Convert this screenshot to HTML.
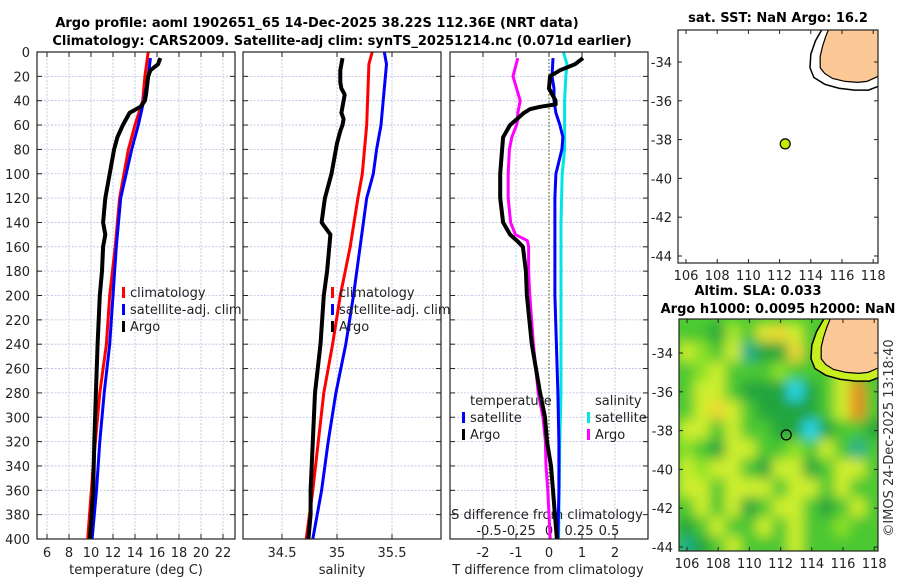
<!DOCTYPE html>
<html><head><meta charset="utf-8">
<style>
html,body{margin:0;padding:0;background:#fff;}
svg{display:block;font-family:"DejaVu Sans","Liberation Sans",sans-serif;}
</style></head>
<body>
<svg id="fig" width="900" height="580" viewBox="0 0 900 580" xmlns="http://www.w3.org/2000/svg">
<text x="317" y="27" font-size="13" font-weight="bold" text-anchor="middle">Argo profile: aoml 1902651_65 14-Dec-2025 38.22S 112.36E (NRT data)</text>
<text x="342" y="45" font-size="13" font-weight="bold" text-anchor="middle">Climatology: CARS2009. Satellite-adj clim: synTS_20251214.nc (0.071d earlier)</text>
<text x="778" y="22" font-size="13" font-weight="bold" text-anchor="middle">sat. SST: NaN Argo: 16.2</text>
<text x="758" y="295" font-size="13" font-weight="bold" text-anchor="middle">Altim. SLA: 0.033</text>
<text x="778" y="313" font-size="13" font-weight="bold" text-anchor="middle">Argo h1000: 0.0095 h2000: NaN</text>
<text transform="translate(893,438) rotate(-90)" font-size="13" fill="#333" text-anchor="middle">©IMOS 24-Dec-2025 13:18:40</text>
<g id="layer"></g>
</svg>
<script>
// ---------- data ----------
var depthTicks = [0,20,40,60,80,100,120,140,160,180,200,220,240,260,280,300,320,340,360,380,400];
var tempTicks = [6,8,10,12,14,16,18,20,22];
var salTicks = [34.5,35,35.5];
var salTickLabels = ["34.5","35","35.5"];
var dTTicks = [-2,-1,0,1,2];
var dSTicks = [-0.5,-0.25,0,0.25,0.5];
var dSTickLabels = ["-0.5","-0.25","0","0.25","0.5"];

var tClimDepth = [0,20,40,60,80,100,120,140,160,200,240,280,340,400];
var tClimVal   = [15.2,14.9,14.7,14.0,13.4,13.0,12.6,12.4,12.2,11.7,11.4,10.8,10.2,9.7];
var tSatDepth  = [5,20,40,60,80,100,120,160,200,240,280,320,360,400];
var tSatVal    = [15.4,15.2,14.8,14.3,13.7,13.2,12.7,12.3,12.0,11.7,11.2,10.8,10.5,10.1];
var tArgoDepth = [5,10,15,20,35,40,45,50,55,60,70,80,100,120,140,150,160,180,200,240,280,320,360,400];
var tArgoVal   = [16.3,16.1,15.4,15.2,15.0,14.9,14.5,13.5,13.2,12.9,12.4,12.1,11.7,11.3,11.1,11.3,11.1,11.0,10.8,10.6,10.45,10.3,10.2,9.9];

var sClimDepth = [0,10,60,100,120,160,200,240,280,320,360,400];
var sClimVal   = [35.32,35.29,35.27,35.23,35.19,35.12,35.03,34.96,34.88,34.83,34.78,34.72];
var sSatDepth  = [0,10,60,80,100,120,160,200,240,280,320,360,400];
var sSatVal    = [35.43,35.45,35.40,35.36,35.33,35.27,35.21,35.15,35.08,34.99,34.92,34.86,34.78];
var sArgoDepth = [5,15,25,30,35,45,50,55,60,65,75,85,100,120,140,150,160,180,200,240,280,320,360,380,400];
var sArgoVal   = [35.05,35.03,35.03,35.04,35.07,35.05,35.04,35.06,35.05,35.03,35.0,34.98,34.95,34.89,34.86,34.94,34.93,34.91,34.88,34.85,34.8,34.78,34.76,34.76,34.74];

var dTArgoDepth = [5,10,15,20,30,40,43,45,47,50,55,60,70,80,100,120,140,150,155,160,180,200,240,280,300,320,340,360,380,400];
var dTArgoVal   = [1.03,0.79,0.33,0.03,0.0,0.2,0.2,-0.27,-0.58,-0.76,-0.97,-1.18,-1.39,-1.42,-1.48,-1.48,-1.39,-1.18,-0.97,-0.79,-0.7,-0.67,-0.52,-0.27,-0.12,-0.06,0.06,0.12,0.18,0.24];
var dTSatDepth = [5,20,30,40,50,60,70,80,90,100,120,160,200,280,320,360,400];
var dTSatVal   = [0.12,0.09,0.15,0.15,0.21,0.33,0.42,0.39,0.3,0.21,0.18,0.18,0.18,0.27,0.3,0.3,0.27];
var dSArgoDepth = [5,20,30,40,50,55,60,70,80,100,120,140,150,155,160,180,200,240,280,300,320,340,360,380,400];
var dSArgoVal   = [-0.26,-0.3,-0.27,-0.24,-0.26,-0.26,-0.27,-0.31,-0.33,-0.34,-0.34,-0.32,-0.28,-0.18,-0.17,-0.17,-0.16,-0.13,-0.09,-0.05,-0.03,-0.025,-0.01,0.0,0.01];
var dSSatDepth = [0,10,20,40,80,100,140,200,280,320,400];
var dSSatVal   = [0.12,0.15,0.14,0.13,0.13,0.11,0.1,0.1,0.1,0.09,0.08];

var mapLonTicks = [106,108,110,112,114,116,118];
var mapLatTicks = [-34,-36,-38,-40,-42,-44];
var argoLon = 112.36, argoLat = -38.22;
var landLon = [115.2,114.95,114.75,114.6,114.6,114.9,115.4,116.2,117.0,117.6,118.3,119,119];
var landLat = [-32.2,-32.7,-33.2,-33.7,-34.3,-34.6,-34.85,-35.0,-35.05,-35.0,-34.75,-34.6,-32.2];
var shelfLon = [114.8,114.3,114.0,113.95,114.2,114.9,115.8,116.8,117.7,118.5,119];
var shelfLat = [-32.2,-32.9,-33.6,-34.3,-34.8,-35.15,-35.35,-35.45,-35.45,-35.2,-35.0];
// SLA grid: rows lat -33..-44, cols lon 106..118 (approx values, m)
var slaLats = [-33,-34,-35,-36,-37,-38,-39,-40,-41,-42,-43,-44];
var slaLons = [106,107,108,109,110,111,112,113,114,115,116,117,118];
var slaGrid = [
 [-0.03,-0.03,-0.1,0.05,-0.03,0.1,0.12,0.08,-0.03,-0.03,0.08,-0.03,-0.03],
 [0.08,0.03,-0.03,0.08,-0.15,-0.1,-0.1,0.12,-0.03,0.03,0.08,-0.03,-0.03],
 [-0.03,0.03,0.08,-0.03,-0.03,-0.03,0.03,-0.03,-0.03,-0.03,0.08,-0.03,-0.03],
 [-0.03,0.08,0.08,-0.03,-0.1,-0.1,-0.1,-0.2,-0.1,-0.03,0.08,0.18,-0.03],
 [-0.03,0.08,0.12,0.08,-0.03,-0.1,-0.1,-0.1,-0.1,-0.03,0.08,0.18,-0.03],
 [0.08,0.08,-0.03,0.08,-0.03,-0.03,-0.1,-0.1,-0.2,-0.1,-0.03,-0.03,-0.1],
 [0.03,-0.03,-0.1,0.08,0.08,-0.03,-0.03,0.03,-0.03,0.08,-0.03,-0.15,-0.03],
 [0.08,0.03,0.08,0.08,-0.03,-0.1,0.08,0.08,-0.1,-0.03,0.08,0.08,-0.03],
 [0.08,0.08,-0.03,0.08,0.08,0.08,-0.03,0.08,0.08,-0.03,0.08,-0.03,-0.03],
 [-0.03,0.08,-0.03,0.08,-0.1,-0.03,0.08,0.08,-0.03,-0.1,-0.03,0.08,-0.03],
 [-0.1,-0.03,0.08,-0.03,-0.03,0.08,-0.03,0.08,-0.03,-0.03,0.03,-0.03,-0.03],
 [-0.15,-0.1,-0.03,0.08,-0.03,-0.03,-0.03,0.08,-0.03,-0.03,-0.03,-0.03,-0.03]
];

// ---------- helpers ----------
var NS="http://www.w3.org/2000/svg";
var layer=document.getElementById('layer');
function mk(tag,attrs,parent){var e=document.createElementNS(NS,tag);for(var k in attrs)e.setAttribute(k,attrs[k]);(parent||layer).appendChild(e);return e;}
var Y0=52,Y1=539;
function yD(d){return Y0+(d/400)*(Y1-Y0);}
function xT(t){return 47+(t-6)*11;}
function xS(s){return 337+(s-35)*110;}
function xDT(v){return 549+v*33;}
function xDS(v){return 549+v*120;}
var panels=[[37,235],[243,441],[450,648]];

function line(xf,depths,vals,color,w,name){
  var pts=depths.map(function(d,i){return xf(vals[i]).toFixed(1)+','+yD(d).toFixed(1);}).join(' ');
  var p=mk('polyline',{points:pts,fill:'none',stroke:color,'stroke-width':w,'stroke-linejoin':'round'});
  
  
}
function txt(x,y,s,size,anchor,name,extra){
  var t=mk('text',{x:x,y:y,'font-size':size,'text-anchor':anchor||'start',fill:'#222'});
  t.textContent=s;
  
  
  if(extra)for(var k in extra)t.setAttribute(k,extra[k]);
  return t;
}

// ---------- profile panels ----------
panels.forEach(function(p,pi){
  var g=mk('g',{});
  
  
  depthTicks.forEach(function(d){
    if(d>0&&d<400)mk('line',{x1:p[0],x2:p[1],y1:yD(d),y2:yD(d),stroke:'#b8bedf','stroke-width':0.8,'stroke-dasharray':'2,1.5'},g);
    mk('line',{x1:p[0],x2:p[0]+5,y1:yD(d),y2:yD(d),stroke:'#222'},g);
    mk('line',{x1:p[1]-5,x2:p[1],y1:yD(d),y2:yD(d),stroke:'#222'},g);
  });
  var xs = pi==0? tempTicks.map(xT) : pi==1? salTicks.map(xS) : dTTicks.map(xDT);
  xs.forEach(function(x){
    mk('line',{x1:x,x2:x,y1:Y0,y2:Y1,stroke:'#b8bedf','stroke-width':0.8,'stroke-dasharray':'2,1.5'},g);
    mk('line',{x1:x,x2:x,y1:Y0,y2:Y0+5,stroke:'#222'},g);
    mk('line',{x1:x,x2:x,y1:Y1-5,y2:Y1,stroke:'#222'},g);
  });
});

depthTicks.forEach(function(d){ txt(30,yD(d)+5,String(d),13,'end','depth-tick-label'); });
tempTicks.forEach(function(t){ txt(xT(t),557,String(t),13,'middle','temp-tick-label'); });
salTicks.forEach(function(s,i){ txt(xS(s),557,salTickLabels[i],13,'middle','salinity-tick-label'); });
dTTicks.forEach(function(v){ txt(xDT(v),557,String(v),13,'middle','tdiff-tick-label'); });
dSTicks.forEach(function(v,i){ txt(xDS(v),535,dSTickLabels[i],13,'middle','sdiff-tick-label'); });
txt(136,574,'temperature (deg C)',13,'middle','temp-axis-title');
txt(342,574,'salinity',13,'middle','salinity-axis-title');
txt(548,574,'T difference from climatology',13,'middle','tdiff-axis-title');
txt(547,519,'S difference from climatology',13,'middle','sdiff-axis-title');

var z=mk('line',{x1:549,x2:549,y1:Y0,y2:Y1,stroke:'#556b2f','stroke-width':1.2,'stroke-dasharray':'1.5,2'});



line(xT,tClimDepth,tClimVal,'#ff0000',3,'temp-climatology-line');
line(xT,tSatDepth,tSatVal,'#0000ff',3,'temp-satellite-line');
line(xT,tArgoDepth,tArgoVal,'#000',4,'temp-argo-line');
line(xS,sClimDepth,sClimVal,'#ff0000',3,'salinity-climatology-line');
line(xS,sSatDepth,sSatVal,'#0000ff',3,'salinity-satellite-line');
line(xS,sArgoDepth,sArgoVal,'#000',4,'salinity-argo-line');
line(xDS,dSSatDepth,dSSatVal,'#00e5e5',3,'sdiff-satellite-line');
line(xDS,dSArgoDepth,dSArgoVal,'#ff00ff',3,'sdiff-argo-line');
line(xDT,dTSatDepth,dTSatVal,'#0000ff',3,'tdiff-satellite-line');
line(xDT,dTArgoDepth,dTArgoVal,'#000',4,'tdiff-argo-line');

panels.forEach(function(p){
  var r=mk('rect',{x:p[0],y:Y0,width:p[1]-p[0],height:Y1-Y0,fill:'none',stroke:'#222','stroke-width':1.2});
  
  
});

function legend(x,y,color,label,name){
  var m=mk('rect',{x:x,y:y-10,width:3,height:11,fill:color});
  
  
  txt(x+8,y,label,13,'start',name);
}
legend(122,297,'#ff0000','climatology','legend-temp-climatology');
legend(122,314,'#0000ff','satellite-adj. clim','legend-temp-satellite');
legend(122,331,'#000','Argo','legend-temp-argo');
legend(331,297,'#ff0000','climatology','legend-sal-climatology');
legend(331,314,'#0000ff','satellite-adj. clim','legend-sal-satellite');
legend(331,331,'#000','Argo','legend-sal-argo');
txt(470,405,'temperature',13,'start','legend-temperature-header');
legend(462,422,'#0000ff','satellite','legend-tdiff-satellite');
legend(462,439,'#000','Argo','legend-tdiff-argo');
txt(595,405,'salinity',13,'start','legend-salinity-header');
legend(587,422,'#00e5e5','satellite','legend-sdiff-satellite');
legend(587,439,'#ff00ff','Argo','legend-sdiff-argo');

// ---------- maps ----------
function makeMap(x0,x1,y0,y1,latRef,name,withSla){
  var lx=function(lon){return x0+8+(lon-106)*15.6;};
  var ly=function(lat){return latRef+(-34-lat)*19.4;};
  var g=mk('g',{});
  
  
  var cid='clip'+name;
  var cp=mk('clipPath',{id:cid},g);mk('rect',{x:x0,y:y0,width:x1-x0,height:y1-y0},cp);
  var inner=mk('g',{'clip-path':'url(#'+cid+')'},g);
  if(withSla){
    var f=mk('filter',{id:'blur'+name,x:'-10%',y:'-10%',width:'120%',height:'120%'},g);
    mk('feGaussianBlur',{stdDeviation:6},f);
    mk('rect',{x:x0,y:y0,width:x1-x0,height:y1-y0,fill:'rgb(80,205,50)'},inner);
    var hg=mk('g',{filter:'url(#blur'+name+')'},inner);
    slaLats.forEach(function(lat,ri){slaLons.forEach(function(lon,ci){
      var c=mk('rect',{x:lx(lon-0.5)-1,y:ly(lat+0.5)-1,width:15.6+2,height:19.4+2,fill:slaColor(slaGrid[ri][ci])},hg);
      
      
    });});
    var shelf=mk('polygon',{points:poly(shelfLon.concat([119]),shelfLat.concat([-32.2]),lx,ly),fill:'#c8f020',stroke:'#000','stroke-width':1.5},inner);
    
    
  } else {
    var shelf2=mk('polygon',{points:poly(shelfLon.concat([119]),shelfLat.concat([-32.2]),lx,ly),fill:'#fff',stroke:'#000','stroke-width':1.5},inner);
    
    
  }
  var land=mk('polygon',{points:poly(landLon,landLat,lx,ly),fill:'#fbc896',stroke:'#000','stroke-width':1.2},inner);
  
  
  var pt=mk('circle',{cx:lx(argoLon),cy:ly(argoLat),r:5,fill:withSla?'none':'#c0ee00',stroke:'#000','stroke-width':1.2},g);
  
  
  var fr=mk('rect',{x:x0,y:y0,width:x1-x0,height:y1-y0,fill:'none',stroke:'#222','stroke-width':1.2},g);
  
  
  mapLonTicks.forEach(function(lon){
    var x=lx(lon);
    mk('line',{x1:x,x2:x,y1:y0,y2:y0+4,stroke:'#222'},g);
    mk('line',{x1:x,x2:x,y1:y1-4,y2:y1,stroke:'#222'},g);
    txt(x,y1+17,String(lon),13,'middle','map-lon-tick-label');
  });
  mapLatTicks.forEach(function(lat){
    var y=ly(lat);
    mk('line',{x1:x0,x2:x0+4,y1:y,y2:y,stroke:'#222'},g);
    mk('line',{x1:x1-4,x2:x1,y1:y,y2:y,stroke:'#222'},g);
    txt(x0-6,y+5,String(lat),13,'end','map-lat-tick-label');
  });
}
function poly(lons,lats,lx,ly){return lons.map(function(l,i){return lx(l).toFixed(1)+','+ly(lats[i]).toFixed(1);}).join(' ');}
var cStops=[[-0.2,[40,215,235]],[-0.15,[30,175,140]],[-0.1,[35,165,60]],[-0.03,[75,200,50]],[0.03,[140,225,40]],[0.08,[205,238,45]],[0.12,[238,215,50]],[0.18,[232,140,35]]];
function slaColor(v){
  if(v<=cStops[0][0])return 'rgb('+cStops[0][1]+')';
  for(var i=1;i<cStops.length;i++){if(v<=cStops[i][0]){var a=cStops[i-1],b=cStops[i],t=(v-a[0])/(b[0]-a[0]);
    return 'rgb('+[0,1,2].map(function(k){return Math.round(a[1][k]+(b[1][k]-a[1][k])*t);}).join(',')+')';}}
  return 'rgb('+cStops[cStops.length-1][1]+')';
}
makeMap(678,878,30,263,62,'sst-map',false);
makeMap(679,878,319,551,353,'sla-map',true);
</script>
</body></html>
